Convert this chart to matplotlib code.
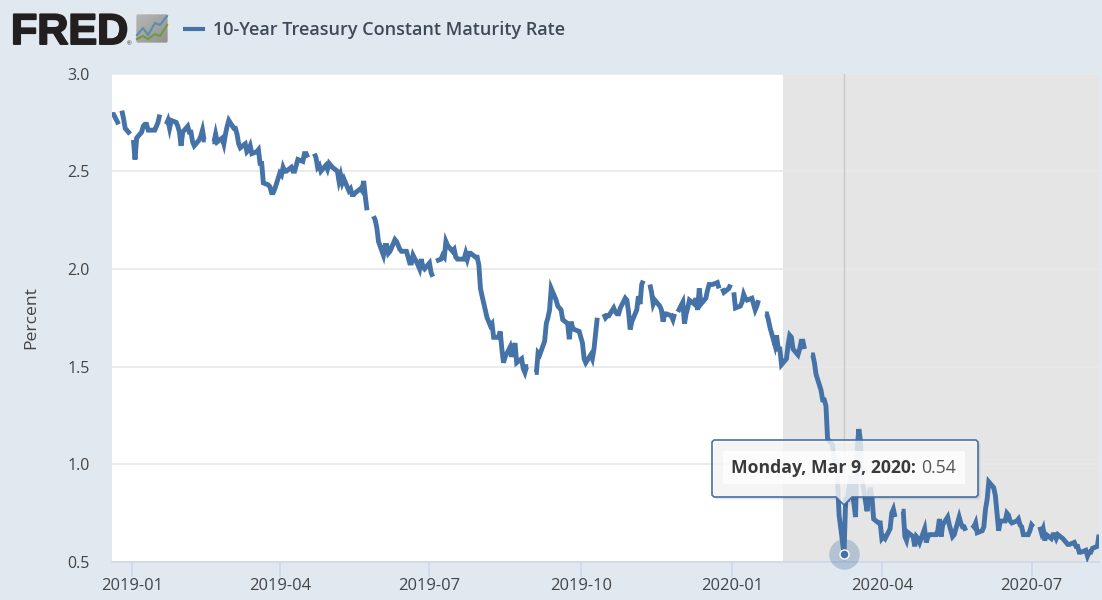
import matplotlib
matplotlib.use('Agg')
import matplotlib.pyplot as plt
import matplotlib.patheffects as pe
from matplotlib.patches import Polygon, Rectangle, FancyBboxPatch
import numpy as np
import pandas as pd

# each stretch runs over consecutive business days, holidays break the line
seg_2018_12_20 = [2.79, 2.79, 2.74]
seg_2018_12_26 = [2.81, 2.77, 2.72, 2.69]
seg_2019_01_02 = [2.66, 2.56, 2.67, 2.70, 2.73, 2.74, 2.74, 2.71, 2.71, 2.71, 2.73, 2.75, 2.79]
seg_2019_01_22 = [2.74, 2.76, 2.72, 2.76, 2.75, 2.73, 2.70, 2.63, 2.70, 2.73, 2.70, 2.70, 2.65,
                  2.63, 2.66, 2.68, 2.71, 2.66, 2.66]
seg_2019_02_19 = [2.65, 2.65, 2.69, 2.65, 2.67, 2.64, 2.69, 2.73, 2.76, 2.72, 2.72, 2.69, 2.64,
                  2.62, 2.64, 2.60, 2.61, 2.63, 2.59, 2.60, 2.61, 2.54, 2.54, 2.44, 2.43, 2.42,
                  2.39, 2.39, 2.41, 2.49, 2.48, 2.52, 2.50, 2.50, 2.52, 2.50, 2.50, 2.53, 2.56,
                  2.55, 2.59, 2.59, 2.57]
seg_2019_04_22 = [2.59, 2.57, 2.52, 2.53, 2.50, 2.53, 2.51, 2.54, 2.53, 2.52, 2.50, 2.45, 2.48,
                  2.44, 2.46, 2.40, 2.41, 2.38, 2.38, 2.39, 2.41, 2.40, 2.45, 2.37, 2.30]
seg_2019_05_28 = [2.27, 2.25, 2.21, 2.14, 2.07, 2.12, 2.12, 2.08, 2.09, 2.15, 2.14, 2.12, 2.10,
                  2.09, 2.09, 2.06, 2.03, 2.03, 2.07, 2.02, 2.00, 2.05, 2.01, 2.00, 2.03, 1.98, 1.96]
seg_2019_07_05 = [2.04, 2.05, 2.07, 2.06, 2.14, 2.12, 2.09, 2.10, 2.06, 2.05, 2.05, 2.05, 2.08,
                  2.05, 2.08, 2.08, 2.06, 2.06, 2.02, 1.90, 1.86, 1.75, 1.73, 1.71, 1.72, 1.65,
                  1.65, 1.68, 1.59, 1.52, 1.55, 1.60, 1.55, 1.59, 1.62, 1.52, 1.54, 1.49, 1.47,
                  1.50, 1.50]
seg_2019_09_03 = [1.47, 1.47, 1.57, 1.56, 1.63, 1.72, 1.75, 1.79, 1.90, 1.84, 1.81, 1.80, 1.79,
                  1.74, 1.72, 1.64, 1.73, 1.70, 1.69, 1.68, 1.65, 1.62, 1.54, 1.52, 1.56, 1.54,
                  1.59, 1.67, 1.75]
seg_2019_10_15 = [1.77, 1.75, 1.76, 1.76, 1.80, 1.78, 1.77, 1.77, 1.80, 1.85, 1.84, 1.78, 1.69,
                  1.73, 1.79, 1.86, 1.82, 1.92, 1.94]
seg_2019_11_12 = [1.92, 1.88, 1.82, 1.84, 1.81, 1.79, 1.73, 1.77, 1.77, 1.76, 1.74, 1.77]
seg_2019_11_29 = [1.78, 1.83, 1.72, 1.77, 1.80, 1.84, 1.82, 1.85, 1.79, 1.90, 1.82, 1.85, 1.89,
                  1.92, 1.92, 1.92, 1.93, 1.90]
seg_2019_12_26 = [1.90, 1.88, 1.90, 1.92]
seg_2020_01_02 = [1.88, 1.80, 1.81, 1.83, 1.87, 1.85, 1.84, 1.85, 1.82, 1.79, 1.81, 1.84]
seg_2020_01_21 = [1.77, 1.77, 1.74, 1.70, 1.61, 1.66, 1.59, 1.59, 1.51, 1.54, 1.61, 1.66, 1.65,
                  1.59, 1.56, 1.59, 1.63, 1.63, 1.59]
seg_2020_02_18 = [1.56, 1.56, 1.52, 1.46, 1.38, 1.33, 1.33, 1.30, 1.13, 1.10, 1.02, 1.02, 0.92,
                  0.74, 0.54, 0.82, 0.82, 0.88, 0.94, 0.73, 1.08, 1.18, 1.12, 0.92, 0.76, 0.84,
                  0.88, 0.83, 0.72, 0.70, 0.70, 0.62, 0.63, 0.62, 0.67, 0.75, 0.77, 0.73]
seg_2020_04_13 = [0.76, 0.76, 0.63, 0.61, 0.65, 0.63, 0.58, 0.63, 0.62, 0.60, 0.67, 0.60, 0.63,
                  0.64, 0.64, 0.64, 0.66, 0.72, 0.63, 0.69, 0.73, 0.69, 0.66, 0.63, 0.64, 0.73,
                  0.70, 0.68, 0.68, 0.66]
seg_2020_05_26 = [0.69, 0.68, 0.70, 0.65, 0.66, 0.68, 0.77, 0.82, 0.91, 0.88, 0.84, 0.75, 0.66,
                  0.71, 0.71, 0.75, 0.74, 0.71, 0.70, 0.71, 0.72, 0.69, 0.68, 0.64, 0.64, 0.66,
                  0.69, 0.68]
seg_2020_07_06 = [0.68, 0.65, 0.67, 0.61, 0.64, 0.62, 0.64, 0.64, 0.62, 0.64, 0.62, 0.61, 0.60,
                  0.59, 0.59, 0.60, 0.58, 0.58, 0.55, 0.55, 0.56, 0.53, 0.55, 0.55, 0.57, 0.58,
                  0.64]

segments = [('2018-12-20', seg_2018_12_20), ('2018-12-26', seg_2018_12_26),
            ('2019-01-02', seg_2019_01_02), ('2019-01-22', seg_2019_01_22),
            ('2019-02-19', seg_2019_02_19), ('2019-04-22', seg_2019_04_22),
            ('2019-05-28', seg_2019_05_28), ('2019-07-05', seg_2019_07_05),
            ('2019-09-03', seg_2019_09_03), ('2019-10-15', seg_2019_10_15),
            ('2019-11-12', seg_2019_11_12), ('2019-11-29', seg_2019_11_29),
            ('2019-12-26', seg_2019_12_26), ('2020-01-02', seg_2020_01_02),
            ('2020-01-21', seg_2020_01_21), ('2020-02-18', seg_2020_02_18),
            ('2020-04-13', seg_2020_04_13), ('2020-05-26', seg_2020_05_26),
            ('2020-07-06', seg_2020_07_06)]

y_ticks = [0.5, 1.0, 1.5, 2.0, 2.5, 3.0]
x_tick_dates = ['2019-01-01', '2019-04-01', '2019-07-01', '2019-10-01', '2020-01-01',
                '2020-04-01', '2020-07-01']
x_tick_labels = ['2019-01', '2019-04', '2019-07', '2019-10', '2020-01', '2020-04', '2020-07']
recession_start = '2020-02-01'
hover_date = '2020-03-09'
hover_value = 0.54

line_color = '#4572A7'
bg_color = '#E1E9F0'
text_color = '#444444'

plt.rcParams['font.family'] = ['Open Sans', 'DejaVu Sans']

fig = plt.figure(figsize=(11.02, 6), dpi=100, facecolor=bg_color)
ax = fig.add_axes([112 / 1102, 38 / 600, 987 / 1102, 488.5 / 600])
ax.set_facecolor('white')

ax.axvspan(pd.Timestamp(recession_start), pd.Timestamp('2020-08-11'), color='#E5E5E5', lw=0, zorder=0)
ax.yaxis.grid(True, color='#E9E9E9', lw=1.3, zorder=1)
ax.set_axisbelow(True)
ax.axvline(pd.Timestamp(hover_date), color='#C8C8C8', lw=1, zorder=2)

for start, vals in segments:
    dates = pd.bdate_range(start, periods=len(vals))
    ax.plot(dates, vals, color=line_color, lw=3.5, solid_joinstyle='miter',
            solid_capstyle='butt', zorder=3)

# hovered point
ax.plot([pd.Timestamp(hover_date)], [hover_value], 'o', ms=22, color=line_color, alpha=0.3,
        mew=0, zorder=4, clip_on=False)
ax.plot([pd.Timestamp(hover_date)], [hover_value], 'o', ms=6.5, color=line_color, mec='white',
        mew=1, zorder=5)

ax.set_xlim(pd.Timestamp('2018-12-20'), pd.Timestamp('2020-08-11'))
ax.set_ylim(0.5, 3.0)
ax.set_yticks(y_ticks)
ax.set_yticklabels(['%.1f' % v for v in y_ticks])
ax.set_xticks(pd.to_datetime(x_tick_dates))
ax.set_xticklabels(x_tick_labels)
ax.tick_params(axis='y', length=0, pad=16, labelsize=11.5, labelcolor=text_color)
ax.tick_params(axis='x', length=10.8, width=1.1, color='#CCD6EB', pad=1, labelsize=11.9,
               labelcolor=text_color)
for name in ['top', 'right', 'left']:
    ax.spines[name].set_visible(False)
ax.spines['bottom'].set_color('#CCD6EB')
ax.spines['bottom'].set_linewidth(1.1)
ax.set_ylabel('Percent', fontsize=12.6, color=text_color)
ax.yaxis.set_label_coords(-73 / 987, 0.5)

# overlay in pixel coordinates for the header and the tooltip
top = fig.add_axes([0, 0, 1, 1], facecolor='none')
top.axis('off')

# FRED logo
top.text(11, 44, 'FRED', family=['Liberation Sans'], weight='bold', fontsize=31, color='#231F20',
         va='baseline', ha='left',
         path_effects=[pe.withStroke(linewidth=1.4, foreground='#231F20')])
top.text(127, 45, '®', family=['Liberation Sans'], fontsize=4.5, color='#231F20', va='baseline')
icon_box = FancyBboxPatch((137, 15), 30, 27, boxstyle='round,pad=1,rounding_size=2',
                          fc='none', ec='#E4E7E9', lw=0.5, zorder=2)
top.add_patch(icon_box)
# icon background goes from near white at the top left to light grey
shade = np.linspace(0, 1, 32)
grad = (shade[None, :] + shade[:, None]) / 2
icon = top.imshow(grad, extent=(136, 168, 43, 14), cmap='gray_r', vmin=-2.0, vmax=5.0,
                  aspect='auto', zorder=1)
icon.set_clip_path(icon_box)
top.plot([137, 143, 148, 155, 160, 167], [35, 28, 35, 23, 25, 16], color='#5B8DB0', lw=1.5, zorder=3)
top.plot([137, 143, 148, 155, 160, 167], [39, 36, 39, 34, 36, 25], color='#6E9B3E', lw=1.5, zorder=3)

# legend
top.plot([183, 205], [29, 29], color=line_color, lw=3, solid_capstyle='butt')
top.text(213, 30, '10-Year Treasury Constant Maturity Rate', fontsize=13.0, weight=600,
         color='#3E4A58', va='center', ha='left')

# tooltip with soft shadow
outline = [(714, 440), (976, 440), (978, 442), (978, 495), (976, 497), (852, 497), (844, 505),
           (836, 497), (714, 497), (712, 495), (712, 442)]
for off, a in [(3, 0.04), (2, 0.06), (1, 0.08)]:
    top.add_patch(Polygon([(px + off, py + off) for px, py in outline], closed=True, fc='black',
                          ec='none', alpha=a, zorder=6))
top.add_patch(Polygon(outline, closed=True, fc=(1, 1, 1, 0.78), ec=line_color, lw=1.2, zorder=7))
top.add_patch(Rectangle((723, 451), 242, 33, fc='white', ec='none', alpha=0.75, zorder=8))
top.text(731, 468, 'Monday, Mar 9, 2020:', fontsize=12.7, weight='bold', color='#3A3A3A',
         va='center', ha='left', zorder=9)
top.text(921, 468, '0.54', fontsize=12.7, color='#555555', va='center', ha='left', zorder=9)

top.set_xlim(0, 1102)
top.set_ylim(600, 0)

fig.savefig('out.png', dpi=100, facecolor=bg_color)
